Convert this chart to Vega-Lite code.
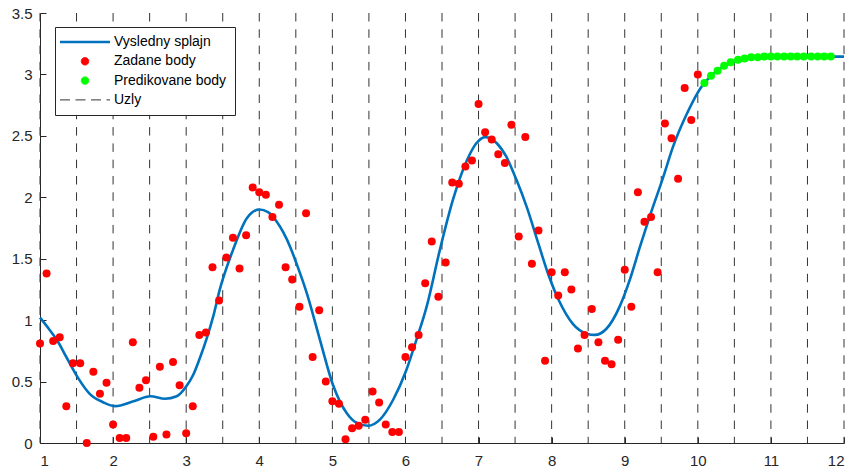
{
  "$schema": "https://vega.github.io/schema/vega-lite/v6.json",
  "width": 804,
  "height": 430,
  "autosize": {"type": "none"},
  "padding": {"left": 40, "top": 13, "right": 10, "bottom": 30},
  "background": "white",
  "config": {
    "view": {"stroke": null},
    "font": "Liberation Sans",
    "axis": {
      "domainColor": "#262626",
      "tickColor": "#262626",
      "labelColor": "#262626",
      "labelFont": "Liberation Sans",
      "labelFontSize": 15,
      "grid": false,
      "tickSize": -6,
      "domainWidth": 1,
      "tickWidth": 1,
      "labelPadding": 14,
      "title": null
    },
    "axisX": {"labelPadding": 16}
  },
  "datasets": {
    "knots": [
      {"x": 1, "series": "Uzly"}, {"x": 1.5, "series": "Uzly"}, {"x": 2, "series": "Uzly"}, {"x": 2.5, "series": "Uzly"},
      {"x": 3, "series": "Uzly"}, {"x": 3.5, "series": "Uzly"}, {"x": 4, "series": "Uzly"}, {"x": 4.5, "series": "Uzly"},
      {"x": 5, "series": "Uzly"}, {"x": 5.5, "series": "Uzly"}, {"x": 6, "series": "Uzly"}, {"x": 6.5, "series": "Uzly"},
      {"x": 7, "series": "Uzly"}, {"x": 7.5, "series": "Uzly"}, {"x": 8, "series": "Uzly"}, {"x": 8.5, "series": "Uzly"},
      {"x": 9, "series": "Uzly"}, {"x": 9.5, "series": "Uzly"}, {"x": 10, "series": "Uzly"}, {"x": 10.5, "series": "Uzly"},
      {"x": 11, "series": "Uzly"}, {"x": 11.5, "series": "Uzly"}, {"x": 12, "series": "Uzly"}
    ],
    "spline": [
      {"x": 1.0, "y": 1.02, "series": "Vysledny splajn"},
      {"x": 1.12, "y": 0.93, "series": "Vysledny splajn"},
      {"x": 1.23, "y": 0.84, "series": "Vysledny splajn"},
      {"x": 1.36, "y": 0.70, "series": "Vysledny splajn"},
      {"x": 1.52, "y": 0.53, "series": "Vysledny splajn"},
      {"x": 1.68, "y": 0.40, "series": "Vysledny splajn"},
      {"x": 1.87, "y": 0.33, "series": "Vysledny splajn"},
      {"x": 2.03, "y": 0.30, "series": "Vysledny splajn"},
      {"x": 2.28, "y": 0.34, "series": "Vysledny splajn"},
      {"x": 2.51, "y": 0.38, "series": "Vysledny splajn"},
      {"x": 2.71, "y": 0.36, "series": "Vysledny splajn"},
      {"x": 2.87, "y": 0.38, "series": "Vysledny splajn"},
      {"x": 3.0, "y": 0.46, "series": "Vysledny splajn"},
      {"x": 3.1, "y": 0.56, "series": "Vysledny splajn"},
      {"x": 3.18, "y": 0.68, "series": "Vysledny splajn"},
      {"x": 3.28, "y": 0.85, "series": "Vysledny splajn"},
      {"x": 3.37, "y": 1.03, "series": "Vysledny splajn"},
      {"x": 3.46, "y": 1.25, "series": "Vysledny splajn"},
      {"x": 3.64, "y": 1.57, "series": "Vysledny splajn"},
      {"x": 3.83, "y": 1.83, "series": "Vysledny splajn"},
      {"x": 4.0, "y": 1.90, "series": "Vysledny splajn"},
      {"x": 4.12, "y": 1.88, "series": "Vysledny splajn"},
      {"x": 4.24, "y": 1.80, "series": "Vysledny splajn"},
      {"x": 4.42, "y": 1.60, "series": "Vysledny splajn"},
      {"x": 4.51, "y": 1.46, "series": "Vysledny splajn"},
      {"x": 4.65, "y": 1.22, "series": "Vysledny splajn"},
      {"x": 4.83, "y": 0.84, "series": "Vysledny splajn"},
      {"x": 5.01, "y": 0.47, "series": "Vysledny splajn"},
      {"x": 5.2, "y": 0.24, "series": "Vysledny splajn"},
      {"x": 5.33, "y": 0.165, "series": "Vysledny splajn"},
      {"x": 5.49, "y": 0.14, "series": "Vysledny splajn"},
      {"x": 5.65, "y": 0.19, "series": "Vysledny splajn"},
      {"x": 5.83, "y": 0.35, "series": "Vysledny splajn"},
      {"x": 6.01, "y": 0.59, "series": "Vysledny splajn"},
      {"x": 6.15, "y": 0.84, "series": "Vysledny splajn"},
      {"x": 6.29, "y": 1.11, "series": "Vysledny splajn"},
      {"x": 6.47, "y": 1.57, "series": "Vysledny splajn"},
      {"x": 6.65, "y": 1.98, "series": "Vysledny splajn"},
      {"x": 6.84, "y": 2.30, "series": "Vysledny splajn"},
      {"x": 6.97, "y": 2.44, "series": "Vysledny splajn"},
      {"x": 7.09, "y": 2.49, "series": "Vysledny splajn"},
      {"x": 7.25, "y": 2.44, "series": "Vysledny splajn"},
      {"x": 7.38, "y": 2.33, "series": "Vysledny splajn"},
      {"x": 7.52, "y": 2.14, "series": "Vysledny splajn"},
      {"x": 7.66, "y": 1.92, "series": "Vysledny splajn"},
      {"x": 7.82, "y": 1.62, "series": "Vysledny splajn"},
      {"x": 7.95, "y": 1.38, "series": "Vysledny splajn"},
      {"x": 8.1, "y": 1.16, "series": "Vysledny splajn"},
      {"x": 8.29, "y": 0.97, "series": "Vysledny splajn"},
      {"x": 8.48, "y": 0.89, "series": "Vysledny splajn"},
      {"x": 8.59, "y": 0.88, "series": "Vysledny splajn"},
      {"x": 8.75, "y": 0.93, "series": "Vysledny splajn"},
      {"x": 8.93, "y": 1.11, "series": "Vysledny splajn"},
      {"x": 9.07, "y": 1.33, "series": "Vysledny splajn"},
      {"x": 9.21, "y": 1.60, "series": "Vysledny splajn"},
      {"x": 9.34, "y": 1.84, "series": "Vysledny splajn"},
      {"x": 9.53, "y": 2.17, "series": "Vysledny splajn"},
      {"x": 9.66, "y": 2.41, "series": "Vysledny splajn"},
      {"x": 9.85, "y": 2.68, "series": "Vysledny splajn"},
      {"x": 10.05, "y": 2.90, "series": "Vysledny splajn"},
      {"x": 10.2, "y": 3.0, "series": "Vysledny splajn"},
      {"x": 10.4, "y": 3.08, "series": "Vysledny splajn"},
      {"x": 10.6, "y": 3.12, "series": "Vysledny splajn"},
      {"x": 10.8, "y": 3.14, "series": "Vysledny splajn"},
      {"x": 11.0, "y": 3.145, "series": "Vysledny splajn"},
      {"x": 11.5, "y": 3.145, "series": "Vysledny splajn"},
      {"x": 12.0, "y": 3.145, "series": "Vysledny splajn"}
    ],
    "given": [
      {"x": 1.00, "y": 0.81, "series": "Zadane body"}, {"x": 1.09, "y": 1.38, "series": "Zadane body"},
      {"x": 1.18, "y": 0.83, "series": "Zadane body"}, {"x": 1.27, "y": 0.86, "series": "Zadane body"},
      {"x": 1.36, "y": 0.30, "series": "Zadane body"}, {"x": 1.45, "y": 0.65, "series": "Zadane body"},
      {"x": 1.55, "y": 0.65, "series": "Zadane body"}, {"x": 1.64, "y": 0.00, "series": "Zadane body"},
      {"x": 1.73, "y": 0.58, "series": "Zadane body"}, {"x": 1.82, "y": 0.40, "series": "Zadane body"},
      {"x": 1.91, "y": 0.49, "series": "Zadane body"}, {"x": 2.00, "y": 0.15, "series": "Zadane body"},
      {"x": 2.09, "y": 0.04, "series": "Zadane body"}, {"x": 2.18, "y": 0.04, "series": "Zadane body"},
      {"x": 2.27, "y": 0.82, "series": "Zadane body"}, {"x": 2.36, "y": 0.45, "series": "Zadane body"},
      {"x": 2.45, "y": 0.51, "series": "Zadane body"}, {"x": 2.55, "y": 0.05, "series": "Zadane body"},
      {"x": 2.64, "y": 0.62, "series": "Zadane body"}, {"x": 2.73, "y": 0.07, "series": "Zadane body"},
      {"x": 2.82, "y": 0.66, "series": "Zadane body"}, {"x": 2.91, "y": 0.47, "series": "Zadane body"},
      {"x": 3.00, "y": 0.08, "series": "Zadane body"}, {"x": 3.09, "y": 0.30, "series": "Zadane body"},
      {"x": 3.18, "y": 0.88, "series": "Zadane body"}, {"x": 3.27, "y": 0.90, "series": "Zadane body"},
      {"x": 3.36, "y": 1.43, "series": "Zadane body"}, {"x": 3.45, "y": 1.16, "series": "Zadane body"},
      {"x": 3.55, "y": 1.51, "series": "Zadane body"}, {"x": 3.64, "y": 1.67, "series": "Zadane body"},
      {"x": 3.73, "y": 1.42, "series": "Zadane body"}, {"x": 3.82, "y": 1.69, "series": "Zadane body"},
      {"x": 3.91, "y": 2.08, "series": "Zadane body"}, {"x": 4.00, "y": 2.04, "series": "Zadane body"},
      {"x": 4.09, "y": 2.02, "series": "Zadane body"}, {"x": 4.18, "y": 1.84, "series": "Zadane body"},
      {"x": 4.27, "y": 1.94, "series": "Zadane body"}, {"x": 4.36, "y": 1.43, "series": "Zadane body"},
      {"x": 4.45, "y": 1.33, "series": "Zadane body"}, {"x": 4.55, "y": 1.11, "series": "Zadane body"},
      {"x": 4.64, "y": 1.87, "series": "Zadane body"}, {"x": 4.73, "y": 0.70, "series": "Zadane body"},
      {"x": 4.82, "y": 1.08, "series": "Zadane body"}, {"x": 4.91, "y": 0.50, "series": "Zadane body"},
      {"x": 5.00, "y": 0.34, "series": "Zadane body"}, {"x": 5.09, "y": 0.32, "series": "Zadane body"},
      {"x": 5.18, "y": 0.03, "series": "Zadane body"}, {"x": 5.27, "y": 0.12, "series": "Zadane body"},
      {"x": 5.36, "y": 0.14, "series": "Zadane body"}, {"x": 5.45, "y": 0.19, "series": "Zadane body"},
      {"x": 5.55, "y": 0.42, "series": "Zadane body"}, {"x": 5.64, "y": 0.33, "series": "Zadane body"},
      {"x": 5.73, "y": 0.15, "series": "Zadane body"}, {"x": 5.82, "y": 0.09, "series": "Zadane body"},
      {"x": 5.91, "y": 0.09, "series": "Zadane body"}, {"x": 6.00, "y": 0.70, "series": "Zadane body"},
      {"x": 6.09, "y": 0.78, "series": "Zadane body"}, {"x": 6.18, "y": 0.88, "series": "Zadane body"},
      {"x": 6.27, "y": 1.30, "series": "Zadane body"}, {"x": 6.36, "y": 1.64, "series": "Zadane body"},
      {"x": 6.45, "y": 1.19, "series": "Zadane body"}, {"x": 6.55, "y": 1.47, "series": "Zadane body"},
      {"x": 6.64, "y": 2.12, "series": "Zadane body"}, {"x": 6.73, "y": 2.11, "series": "Zadane body"},
      {"x": 6.82, "y": 2.25, "series": "Zadane body"}, {"x": 6.91, "y": 2.30, "series": "Zadane body"},
      {"x": 7.00, "y": 2.76, "series": "Zadane body"}, {"x": 7.09, "y": 2.53, "series": "Zadane body"},
      {"x": 7.18, "y": 2.47, "series": "Zadane body"}, {"x": 7.27, "y": 2.35, "series": "Zadane body"},
      {"x": 7.36, "y": 2.28, "series": "Zadane body"}, {"x": 7.45, "y": 2.59, "series": "Zadane body"},
      {"x": 7.55, "y": 1.68, "series": "Zadane body"}, {"x": 7.64, "y": 2.49, "series": "Zadane body"},
      {"x": 7.73, "y": 1.46, "series": "Zadane body"}, {"x": 7.82, "y": 1.73, "series": "Zadane body"},
      {"x": 7.91, "y": 0.67, "series": "Zadane body"}, {"x": 8.00, "y": 1.39, "series": "Zadane body"},
      {"x": 8.09, "y": 1.20, "series": "Zadane body"}, {"x": 8.18, "y": 1.39, "series": "Zadane body"},
      {"x": 8.27, "y": 1.25, "series": "Zadane body"}, {"x": 8.36, "y": 0.77, "series": "Zadane body"},
      {"x": 8.45, "y": 0.88, "series": "Zadane body"}, {"x": 8.55, "y": 1.09, "series": "Zadane body"},
      {"x": 8.64, "y": 0.82, "series": "Zadane body"}, {"x": 8.73, "y": 0.67, "series": "Zadane body"},
      {"x": 8.82, "y": 0.64, "series": "Zadane body"}, {"x": 8.91, "y": 0.84, "series": "Zadane body"},
      {"x": 9.00, "y": 1.41, "series": "Zadane body"}, {"x": 9.09, "y": 1.11, "series": "Zadane body"},
      {"x": 9.18, "y": 2.04, "series": "Zadane body"}, {"x": 9.27, "y": 1.80, "series": "Zadane body"},
      {"x": 9.36, "y": 1.84, "series": "Zadane body"}, {"x": 9.45, "y": 1.39, "series": "Zadane body"},
      {"x": 9.55, "y": 2.60, "series": "Zadane body"}, {"x": 9.64, "y": 2.48, "series": "Zadane body"},
      {"x": 9.73, "y": 2.15, "series": "Zadane body"}, {"x": 9.82, "y": 2.89, "series": "Zadane body"},
      {"x": 9.91, "y": 2.63, "series": "Zadane body"}, {"x": 10.00, "y": 3.00, "series": "Zadane body"}
    ],
    "pred": [
      {"x": 10.09, "y": 2.93, "series": "Predikovane body"}, {"x": 10.18, "y": 2.99, "series": "Predikovane body"},
      {"x": 10.27, "y": 3.03, "series": "Predikovane body"}, {"x": 10.36, "y": 3.07, "series": "Predikovane body"},
      {"x": 10.45, "y": 3.10, "series": "Predikovane body"}, {"x": 10.55, "y": 3.12, "series": "Predikovane body"},
      {"x": 10.64, "y": 3.13, "series": "Predikovane body"}, {"x": 10.73, "y": 3.14, "series": "Predikovane body"},
      {"x": 10.82, "y": 3.14, "series": "Predikovane body"}, {"x": 10.91, "y": 3.145, "series": "Predikovane body"},
      {"x": 11.00, "y": 3.145, "series": "Predikovane body"}, {"x": 11.09, "y": 3.145, "series": "Predikovane body"},
      {"x": 11.18, "y": 3.145, "series": "Predikovane body"}, {"x": 11.27, "y": 3.145, "series": "Predikovane body"},
      {"x": 11.36, "y": 3.145, "series": "Predikovane body"}, {"x": 11.45, "y": 3.145, "series": "Predikovane body"},
      {"x": 11.55, "y": 3.145, "series": "Predikovane body"}, {"x": 11.64, "y": 3.145, "series": "Predikovane body"},
      {"x": 11.73, "y": 3.145, "series": "Predikovane body"}, {"x": 11.82, "y": 3.145, "series": "Predikovane body"}
    ]
  },
  "encoding": {
    "x": {
      "field": "x",
      "type": "quantitative",
      "scale": {"domain": [1, 12], "nice": false, "zero": false},
      "axis": {"values": [1, 2, 3, 4, 5, 6, 7, 8, 9, 10, 11, 12], "format": "d"}
    },
    "color": {
      "field": "series",
      "type": "nominal",
      "scale": {
        "domain": ["Vysledny splajn", "Zadane body", "Predikovane body", "Uzly"],
        "range": ["#0072BD", "#FF0000", "#00FF00", "#333333"]
      },
      "legend": {
        "title": null,
        "orient": "none",
        "legendX": 15,
        "legendY": 14,
        "fillColor": "white",
        "strokeColor": "#262626",
        "padding": 8,
        "labelFont": "Liberation Sans",
        "labelFontSize": 14,
        "labelColor": "#000000",
        "rowPadding": 5.3,
        "symbolOffset": 15,
        "labelOffset": 22,
        "encode": {
          "symbols": {
            "update": {
              "shape": {"signal": "datum.value === 'Zadane body' || datum.value === 'Predikovane body' ? 'circle' : 'M-5,0L5,0'"},
              "size": {"signal": "datum.value === 'Zadane body' || datum.value === 'Predikovane body' ? 55 : 100"},
              "fill": {"signal": "datum.value === 'Zadane body' ? '#FF0000' : datum.value === 'Predikovane body' ? '#00FF00' : 'transparent'"},
              "stroke": {"signal": "datum.value === 'Vysledny splajn' ? '#0072BD' : datum.value === 'Uzly' ? '#262626' : 'transparent'"},
              "strokeWidth": {"signal": "datum.value === 'Vysledny splajn' ? 2.6 : 1"},
              "strokeDash": {"signal": "datum.value === 'Uzly' ? [10, 5.5] : [1, 0]"},
              "opacity": {"value": 1}
            }
          }
        }
      }
    }
  },
  "layer": [
    {
      "data": {"name": "knots"},
      "mark": {"type": "rule", "strokeWidth": 1, "strokeDash": [8.5, 7.8]}
    },
    {
      "data": {"name": "spline"},
      "mark": {"type": "line", "strokeWidth": 2.6, "interpolate": "monotone"},
      "encoding": {
        "y": {
          "field": "y",
          "type": "quantitative",
          "scale": {"domain": [0, 3.5], "nice": false},
          "axis": {"values": [0, 0.5, 1, 1.5, 2, 2.5, 3, 3.5], "format": "~g"}
        }
      }
    },
    {
      "data": {"name": "given"},
      "mark": {"type": "point", "shape": "circle", "filled": true, "size": 64, "opacity": 1},
      "encoding": {"y": {"field": "y", "type": "quantitative"}}
    },
    {
      "data": {"name": "pred"},
      "mark": {"type": "point", "shape": "circle", "filled": true, "size": 64, "opacity": 1},
      "encoding": {"y": {"field": "y", "type": "quantitative"}}
    }
  ]
}
